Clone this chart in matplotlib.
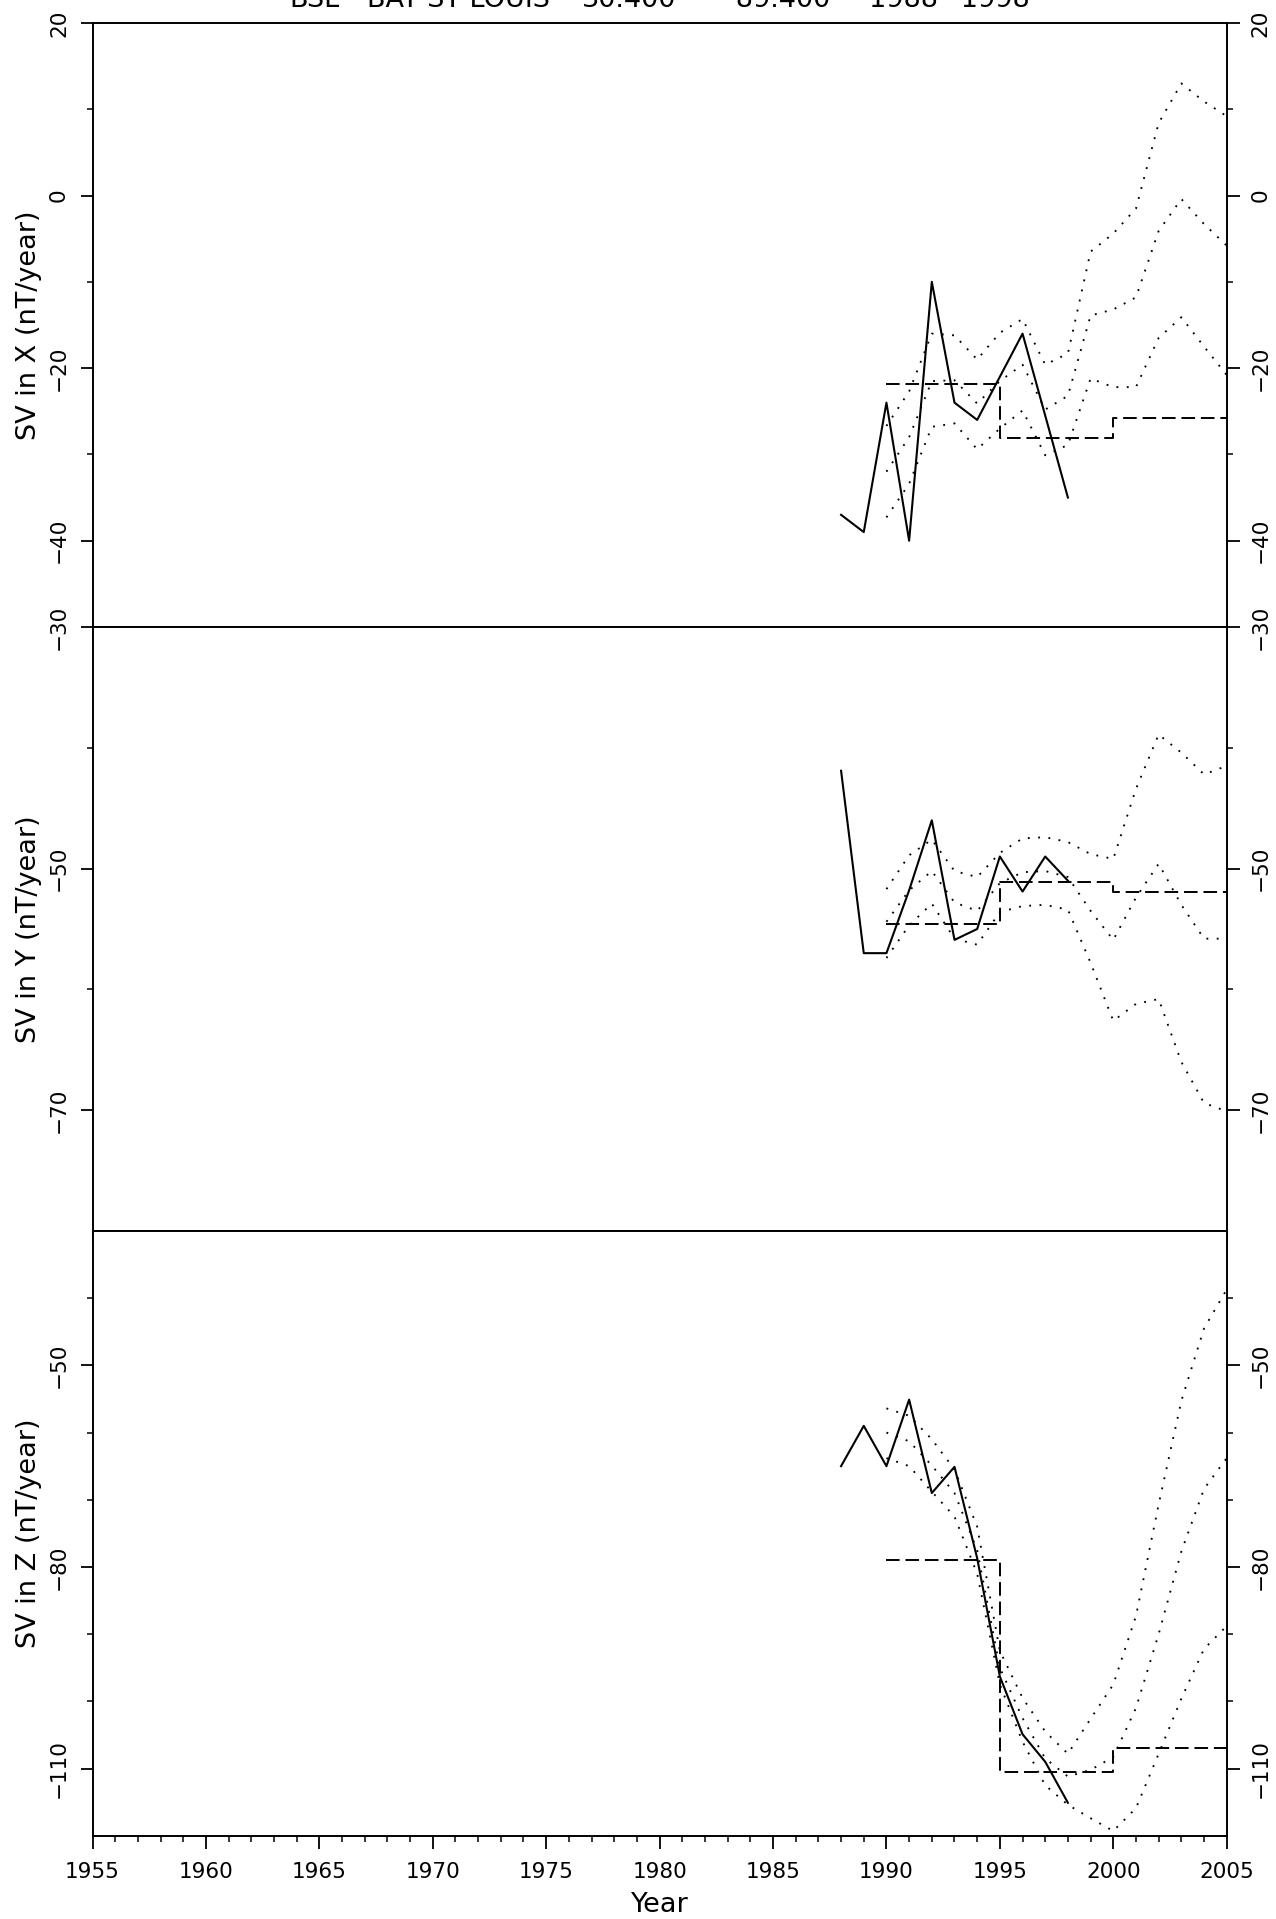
import matplotlib
matplotlib.use("Agg")
import matplotlib.pyplot as plt
from matplotlib.ticker import MultipleLocator

plt.rcParams['font.family'] = ['DejaVu Sans']

# ---------------- data ----------------
obs_years = [1988, 1989, 1990, 1991, 1992, 1993, 1994, 1995, 1996, 1997, 1998]
x_obs = [-37.0, -39.0, -24.0, -40.0, -10.0, -24.0, -26.0, -21.0, -16.0, -25.5, -35.0]
y_obs = [-41.9, -57.0, -57.0, -51.8, -46.0, -55.9, -55.0, -49.0, -51.9, -49.0, -51.0]
z_obs = [-65.0, -59.0, -65.0, -55.1, -69.0, -65.1, -78.7, -96.3, -104.9, -109.0, -115.1]

model_years = [1990, 1991, 1992, 1993, 1994, 1995, 1996, 1997, 1998, 1999,
               2000, 2001, 2002, 2003, 2004, 2005]
x_upper = [-26.7, -22.7, -16.0, -16.2, -19.0, -15.9, -14.3, -19.6, -18.3, -6.5,
           -4.4, -1.5, 8.4, 13.0, 10.9, 9.2]
x_mid = [-32.0, -28.0, -21.5, -21.4, -24.1, -21.5, -19.6, -24.8, -23.2, -13.9,
         -13.2, -11.8, -4.1, -0.4, -3.3, -5.8]
x_lower = [-37.3, -33.4, -26.8, -26.4, -29.4, -27.0, -24.9, -30.1, -28.9, -21.2,
           -22.2, -22.2, -16.5, -14.1, -17.5, -20.8]

y_upper = [-51.7, -48.9, -47.6, -50.2, -50.7, -48.7, -47.5, -47.4, -47.8, -48.8,
           -49.2, -43.4, -38.9, -40.4, -42.2, -41.5]
y_mid = [-54.4, -51.8, -50.2, -52.8, -53.5, -51.2, -50.3, -50.2, -50.7, -53.5,
         -55.9, -52.4, -49.6, -53.0, -55.8, -55.8]
y_lower = [-57.4, -54.7, -52.9, -55.8, -56.3, -53.6, -53.1, -53.0, -53.4, -57.8,
           -62.6, -61.2, -60.8, -66.0, -69.4, -70.1]

z_upper = [-56.4, -57.5, -61.0, -65.5, -74.0, -92.5, -99.5, -104.5, -107.8, -102.6,
           -97.5, -87.3, -70.7, -55.3, -44.5, -38.7]
z_mid = [-60.0, -61.3, -64.9, -69.0, -77.5, -95.0, -102.5, -108.5, -111.2, -110.2,
         -108.3, -101.0, -90.0, -77.7, -68.4, -63.8]
z_lower = [-63.8, -65.0, -68.8, -72.5, -81.0, -97.5, -106.0, -112.5, -115.4, -117.4,
           -119.3, -115.9, -107.8, -99.6, -92.2, -88.8]

step_edges = [1990, 1995, 2000, 2005]
x_step = [-21.8, -28.1, -25.8]
y_step = [-54.6, -51.1, -51.9]
z_step = [-78.9, -110.55, -106.9]

ylabels = ["SV in X (nT/year)", "SV in Y (nT/year)", "SV in Z (nT/year)"]
ylims = [(-50, 20), (-80, -30), (-120, -30)]
ymajor = [[20, 0, -20, -40], [-30, -50, -70], [-50, -80, -110]]
yminor = [[10, -10, -30], [-40, -60], [-40, -60, -70, -90, -100]]
xticks = [1955, 1960, 1965, 1970, 1975, 1980, 1985, 1990, 1995, 2000, 2005]
title_parts = ["BSL", "BAY ST LOUIS", "30.400", "\u221289.400", "1988\u22121998"]

# ---------------- figure ----------------
W, H = 1276, 1919
fig = plt.figure(figsize=(W / 100, H / 100), dpi=100)

left = 92.5 / W
width = (1226.7 - 92.5) / W
tops = [23, 627, 1231]
bots = [627, 1231, 1835.7]

obs = [x_obs, y_obs, z_obs]
ups = [x_upper, y_upper, z_upper]
mids = [x_mid, y_mid, z_mid]
lows = [x_lower, y_lower, z_lower]
steps = [x_step, y_step, z_step]

tick_fs = 15.5
lab_fs = 19.5
dot_ls = (0, (1, 4.5))
dash_ls = (0, (7, 3))

for i in range(3):
    ax = fig.add_axes([left, 1 - bots[i] / H, width, (bots[i] - tops[i]) / H])
    ax.plot(obs_years, obs[i], color='black', lw=1.5)
    for arr in (ups[i], mids[i], lows[i]):
        ax.plot(model_years, arr, color='black', lw=1.35, linestyle=dot_ls)
    ax.plot(step_edges, steps[i] + [steps[i][-1]], color='black', lw=1.4,
            linestyle=dash_ls, drawstyle='steps-post')

    ax.set_xlim(1955, 2005)
    ax.set_ylim(*ylims[i])
    ax.set_xticks(xticks)
    ax.xaxis.set_minor_locator(MultipleLocator(1))
    ax.set_yticks(ymajor[i])
    ax.set_yticks(yminor[i], minor=True)
    ax.set_yticklabels([("\u2212%d" % -v) if v < 0 else "%d" % v for v in ymajor[i]])

    for s in ax.spines.values():
        s.set_linewidth(1.4)

    ax.tick_params(axis='x', which='major', direction='out', length=9, width=1.3,
                   top=False, bottom=True, labelsize=tick_fs, pad=10)
    ax.tick_params(axis='x', which='minor', direction='out', length=4, width=1.1,
                   top=False, bottom=True)
    ax.tick_params(axis='y', which='major', direction='out', length=9, width=1.3,
                   left=True, right=True, labelleft=True, labelright=True,
                   labelsize=tick_fs, pad=8)
    ax.tick_params(axis='y', which='minor', direction='out', length=4, width=1.1,
                   left=True, right=True)
    for t in ax.yaxis.get_major_ticks():
        t.label1.set_rotation(90)
        t.label1.set_va('center')
        t.label1.set_ha('right')
        t.label2.set_rotation(90)
        t.label2.set_va('center')
        t.label2.set_ha('left')
    if i < 2:
        ax.tick_params(axis='x', labelbottom=False)

    fig.text(29 / W, 1 - (tops[i] + bots[i]) / 2 / H, ylabels[i], rotation=90,
             ha='center', va='center', fontsize=lab_fs)

fig.text(659.5 / W, 1 - 1905 / H, "Year", ha='center', va='center', fontsize=lab_fs)

# title sits at the very top edge, partly cut off as in the reference
title_centers = [315, 458, 629, 772, 949]
for txt, cx in zip(title_parts, title_centers):
    fig.text(cx / W, 1 - 7 / H, txt, ha='center', va='baseline', fontsize=lab_fs)

fig.savefig("out.png", dpi=100)
